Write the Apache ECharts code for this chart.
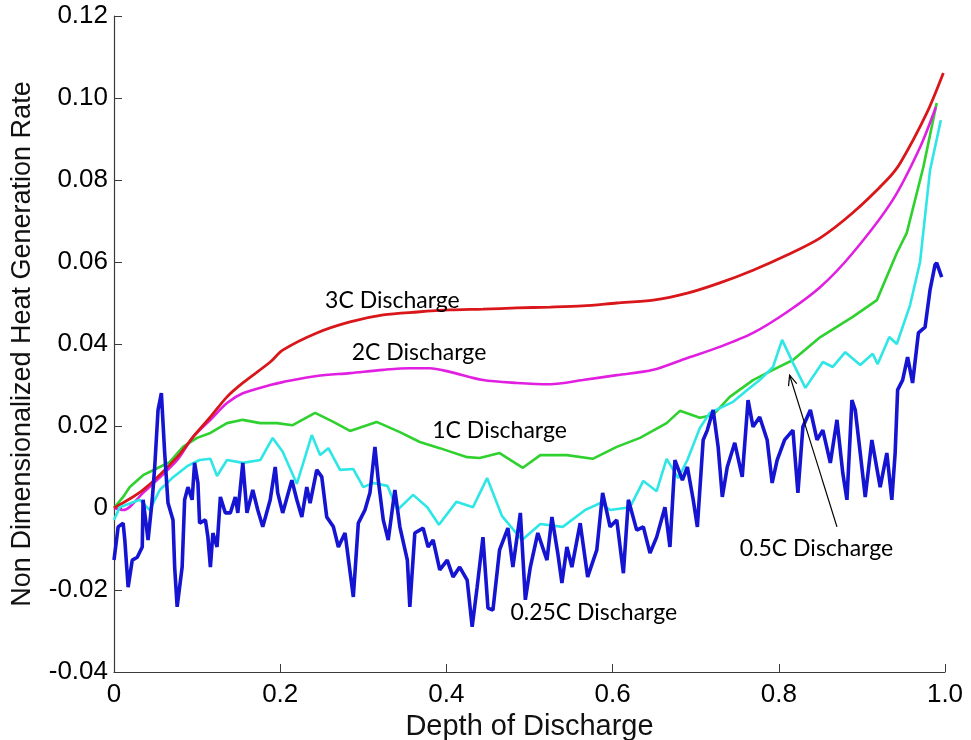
<!DOCTYPE html>
<html>
<head>
<meta charset="utf-8">
<script src="https://cdn.jsdelivr.net/npm/echarts@6/dist/echarts.min.js"></script>
<style>
html,body{margin:0;padding:0;background:#fff;}
#chart{width:971px;height:740px;}
</style>
</head>
<body>
<div id="chart"></div>
<script>
// ---- data ----
const xTicks = [0, 0.2, 0.4, 0.6, 0.8, 1.0];
const yTicks = [-0.04, -0.02, 0, 0.02, 0.04, 0.06, 0.08, 0.10, 0.12];

const seriesNames = ['3C Discharge', '2C Discharge', '1C Discharge', '0.5C Discharge', '0.25C Discharge'];

const rate3C = [[0,0],[0.035,0.0044],[0.076,0.0124],[0.095,0.0173],[0.116,0.0222],[0.136,0.0271],[0.155,0.0305],[0.188,0.0356],[0.203,0.0385],[0.244,0.0427],[0.284,0.0454],[0.324,0.0471],[0.365,0.0478],[0.404,0.0483],[0.444,0.0485],[0.485,0.0488],[0.525,0.0490],[0.564,0.0493],[0.605,0.0500],[0.649,0.0507],[0.690,0.0524],[0.729,0.0549],[0.769,0.0580],[0.810,0.0617],[0.850,0.0659],[0.889,0.0720],[0.930,0.0800],[0.946,0.0841],[0.978,0.0963],[0.998,0.1061]];

const rate2C = [[0,0],[0.011,-0.0005],[0.035,0.0037],[0.076,0.0117],[0.095,0.0173],[0.116,0.0215],[0.136,0.0256],[0.155,0.0280],[0.188,0.0300],[0.203,0.0307],[0.244,0.0322],[0.284,0.0329],[0.324,0.0337],[0.356,0.0341],[0.380,0.0341],[0.404,0.0332],[0.444,0.0312],[0.485,0.0305],[0.525,0.0302],[0.564,0.0312],[0.605,0.0324],[0.649,0.0337],[0.690,0.0366],[0.729,0.0393],[0.769,0.0427],[0.810,0.0478],[0.850,0.0539],[0.889,0.0622],[0.937,0.0751],[0.970,0.0880],[0.989,0.0978]];

const rate1C = [[0,0],[0.011,0.0027],[0.019,0.0051],[0.035,0.0080],[0.055,0.0100],[0.067,0.0112],[0.083,0.0149],[0.100,0.0171],[0.116,0.0183],[0.136,0.0207],[0.155,0.0215],[0.176,0.0207],[0.196,0.0207],[0.215,0.0202],[0.242,0.0232],[0.264,0.0210],[0.284,0.0188],[0.316,0.0210],[0.344,0.0185],[0.368,0.0161],[0.392,0.0146],[0.425,0.0124],[0.440,0.0122],[0.464,0.0134],[0.492,0.0098],[0.513,0.0129],[0.545,0.0129],[0.576,0.0120],[0.605,0.0149],[0.633,0.0171],[0.665,0.0207],[0.681,0.0237],[0.705,0.0220],[0.721,0.0227],[0.741,0.0271],[0.769,0.0312],[0.793,0.0337],[0.817,0.0361],[0.850,0.0417],[0.889,0.0466],[0.918,0.0507],[0.942,0.0622],[0.954,0.0671],[0.974,0.0832],[0.990,0.0988]];

const rateHalfC = [[0,-0.0029],[0.007,0.0002],[0.031,0.0020],[0.043,-0.0005],[0.055,0.0044],[0.070,0.0073],[0.088,0.0102],[0.103,0.0117],[0.116,0.0120],[0.124,0.0078],[0.136,0.0117],[0.155,0.0110],[0.176,0.0117],[0.191,0.0171],[0.203,0.0137],[0.220,0.0059],[0.238,0.0178],[0.248,0.0129],[0.258,0.0146],[0.272,0.0093],[0.288,0.0095],[0.300,0.0051],[0.312,0.0061],[0.329,0.0054],[0.341,-0.0005],[0.360,0.0032],[0.377,0.0002],[0.391,-0.0041],[0.412,0.0015],[0.432,0.0002],[0.449,0.0073],[0.467,-0.0020],[0.491,-0.0078],[0.513,-0.0039],[0.540,-0.0046],[0.567,-0.0005],[0.585,0.0012],[0.597,-0.0005],[0.621,0.0002],[0.637,0.0066],[0.653,0.0041],[0.665,0.0120],[0.679,0.0073],[0.690,0.0117],[0.705,0.0195],[0.717,0.0232],[0.745,0.0259],[0.762,0.0288],[0.777,0.0312],[0.793,0.0344],[0.804,0.0410],[0.817,0.0354],[0.832,0.0293],[0.853,0.0356],[0.865,0.0344],[0.880,0.0380],[0.898,0.0349],[0.913,0.0376],[0.919,0.0351],[0.933,0.0417],[0.942,0.0400],[0.958,0.0495],[0.970,0.0600],[0.982,0.0824],[0.995,0.0946]];

const rateQuarterC = [[0,-0.0127],[0.005,-0.0046],[0.011,-0.0037],[0.013,-0.0078],[0.017,-0.0193],[0.022,-0.0127],[0.028,-0.0120],[0.034,-0.0095],[0.035,0.0020],[0.041,-0.0078],[0.046,0.0020],[0.049,0.0100],[0.053,0.0239],[0.057,0.0280],[0.061,0.0134],[0.065,0.0012],[0.071,-0.0029],[0.073,-0.0144],[0.076,-0.0241],[0.082,-0.0144],[0.085,0.0020],[0.089,0.0051],[0.094,0.0020],[0.097,0.0110],[0.101,0.0061],[0.103,-0.0037],[0.110,-0.0029],[0.113,-0.0071],[0.116,-0.0144],[0.119,-0.0061],[0.124,-0.0095],[0.128,0.0027],[0.134,-0.0012],[0.140,-0.0012],[0.146,0.0027],[0.149,-0.0012],[0.155,0.0110],[0.160,-0.0012],[0.167,0.0044],[0.173,-0.0005],[0.179,-0.0046],[0.188,0.0020],[0.194,0.0100],[0.197,0.0037],[0.203,-0.0012],[0.214,0.0068],[0.220,0.0020],[0.226,-0.0022],[0.232,0.0051],[0.236,0.0012],[0.244,0.0093],[0.250,0.0076],[0.256,-0.0022],[0.264,-0.0046],[0.270,-0.0095],[0.278,-0.0061],[0.288,-0.0217],[0.294,-0.0037],[0.302,-0.0005],[0.308,0.0037],[0.314,0.0149],[0.318,0.0068],[0.324,-0.0029],[0.330,-0.0078],[0.338,0.0044],[0.344,-0.0046],[0.353,-0.0127],[0.356,-0.0241],[0.362,-0.0061],[0.372,-0.0049],[0.378,-0.0095],[0.384,-0.0078],[0.392,-0.0151],[0.401,-0.0127],[0.408,-0.0168],[0.416,-0.0144],[0.425,-0.0176],[0.431,-0.0290],[0.437,-0.0193],[0.444,-0.0071],[0.450,-0.0244],[0.456,-0.0249],[0.464,-0.0102],[0.474,-0.0049],[0.480,-0.0144],[0.489,-0.0012],[0.495,-0.0224],[0.501,-0.0144],[0.510,-0.0061],[0.521,-0.0127],[0.527,-0.0022],[0.534,-0.0110],[0.539,-0.0183],[0.545,-0.0095],[0.551,-0.0144],[0.561,-0.0037],[0.570,-0.0168],[0.581,-0.0102],[0.588,0.0037],[0.597,-0.0046],[0.605,-0.0029],[0.613,-0.0159],[0.619,0.0020],[0.629,-0.0054],[0.637,-0.0046],[0.645,-0.0110],[0.653,-0.0071],[0.663,0.0002],[0.669,-0.0095],[0.675,0.0117],[0.684,0.0068],[0.690,0.0100],[0.697,0.0020],[0.702,-0.0046],[0.709,0.0166],[0.714,0.0190],[0.721,0.0239],[0.727,0.0149],[0.732,0.0027],[0.738,0.0100],[0.747,0.0159],[0.756,0.0076],[0.763,0.0263],[0.769,0.0198],[0.777,0.0222],[0.786,0.0166],[0.792,0.0061],[0.798,0.0117],[0.807,0.0166],[0.817,0.0190],[0.823,0.0037],[0.829,0.0198],[0.838,0.0239],[0.846,0.0166],[0.853,0.0190],[0.862,0.0110],[0.870,0.0215],[0.877,0.0085],[0.882,0.0020],[0.888,0.0263],[0.892,0.0239],[0.898,0.0134],[0.904,0.0027],[0.912,0.0166],[0.922,0.0051],[0.930,0.0134],[0.936,0.0020],[0.940,0.0134],[0.943,0.0288],[0.949,0.0312],[0.955,0.0368],[0.961,0.0305],[0.968,0.0427],[0.976,0.0441],[0.982,0.0532],[0.988,0.0593],[0.990,0.0598],[0.996,0.0563]];

// ---- annotation placement (data coordinates) ----
const labelPlaces = [
  {text: '3C Discharge', at: [0.254, 0.0507]},
  {text: '2C Discharge', at: [0.286, 0.0378]},
  {text: '1C Discharge', at: [0.383, 0.0190]},
  {text: '0.25C Discharge', at: [0.477, -0.0256]},
  {text: '0.5C Discharge', at: [0.753, -0.0098]}
];
const arrowFrom = [0.870, -0.0046];
const arrowTo = [0.813, 0.0324];

const chart = echarts.init(document.getElementById('chart'), null, {renderer: 'canvas'});

const axisFont = 'Liberation Sans, Arial, Helvetica, sans-serif';
const axisColor = '#3a3a3a';

function lineSeries(name, data, color, width, smooth) {
  return {
    name: name, type: 'line', data: data, showSymbol: false, smooth: smooth,
    lineStyle: {color: color, width: width}, itemStyle: {color: color},
    animation: false, z: 2
  };
}

const option = {
  backgroundColor: '#ffffff',
  animation: false,
  grid: {left: 114, right: 26, top: 16, bottom: 68, containLabel: false, outerBoundsMode: 'none'},
  xAxis: {
    type: 'value', min: xTicks[0], max: xTicks[xTicks.length - 1], interval: 0.2,
    name: 'Depth of Discharge', nameLocation: 'middle', nameGap: 33,
    nameTextStyle: {fontFamily: axisFont, fontSize: 29, color: '#111'},
    axisLine: {show: true, onZero: false, lineStyle: {color: axisColor, width: 1.2}},
    axisTick: {show: true, inside: true, length: 8, lineStyle: {color: axisColor}},
    axisLabel: {fontFamily: axisFont, fontSize: 26, color: '#000', margin: 10,
      formatter: v => Math.abs(v) < 1e-9 ? '0' : v.toFixed(1)},
    splitLine: {show: false}
  },
  yAxis: {
    type: 'value', min: yTicks[0], max: yTicks[yTicks.length - 1], interval: 0.02,
    name: 'Non Dimensionalized Heat Generation Rate', nameLocation: 'middle', nameGap: 78,
    nameTextStyle: {fontFamily: axisFont, fontSize: 27, color: '#111'},
    axisLine: {show: true, onZero: false, lineStyle: {color: axisColor, width: 1.2}},
    axisTick: {show: true, inside: true, length: 8, lineStyle: {color: axisColor}},
    axisLabel: {fontFamily: axisFont, fontSize: 26, color: '#000', margin: 6,
      formatter: v => Math.abs(v) < 1e-9 ? '0' : v.toFixed(2)},
    splitLine: {show: false}
  },
  series: [
    lineSeries(seriesNames[2], rate1C, '#2fd12f', 2.6, false),
    lineSeries(seriesNames[1], rate2C, '#e11fe1', 2.6, 0.3),
    lineSeries(seriesNames[0], rate3C, '#d9161a', 2.8, 0.3),
    lineSeries(seriesNames[3], rateHalfC, '#2ee6e6', 2.6, false),
    lineSeries(seriesNames[4], rateQuarterC, '#1414d2', 3.6, false)
  ]
};

chart.setOption(option);

// annotations positioned from data coordinates
const annFont = 'Lato, "Open Sans", sans-serif';
const elements = labelPlaces.map(l => {
  const p = chart.convertToPixel({gridIndex: 0}, l.at);
  return {
    type: 'text', x: p[0], y: p[1], z: 10,
    style: {text: l.text, fontFamily: annFont, fontSize: 23, fill: '#000',
      textAlign: 'left', textVerticalAlign: 'middle'}
  };
});
const a0 = chart.convertToPixel({gridIndex: 0}, arrowFrom);
const a1 = chart.convertToPixel({gridIndex: 0}, arrowTo);
const ang = Math.atan2(a1[1] - a0[1], a1[0] - a0[0]);
const hl = 11, hw = 0.4;
elements.push({
  type: 'line', z: 10,
  shape: {x1: a0[0], y1: a0[1], x2: a1[0], y2: a1[1]},
  style: {stroke: '#000', lineWidth: 1.2}
});
elements.push({
  type: 'polyline', z: 10,
  shape: {points: [
    [a1[0] - hl * Math.cos(ang - hw), a1[1] - hl * Math.sin(ang - hw)],
    [a1[0], a1[1]],
    [a1[0] - hl * Math.cos(ang + hw), a1[1] - hl * Math.sin(ang + hw)]
  ]},
  style: {stroke: '#000', lineWidth: 1.2, fill: null}
});
chart.setOption({graphic: {elements: elements}});
</script>
</body>
</html>
